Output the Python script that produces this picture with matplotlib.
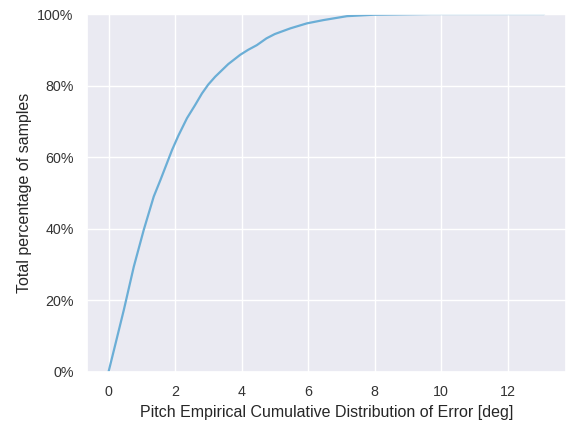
import matplotlib
matplotlib.use("Agg")
import matplotlib.pyplot as plt
import seaborn as sns
from matplotlib.ticker import PercentFormatter

sns.set_theme(style="darkgrid")
plt.rcParams['font.family'] = ['Liberation Sans', 'DejaVu Sans']

# empirical CDF of pitch error
error_deg = [0.0, 0.2, 0.46, 0.76, 1.06, 1.36, 1.56, 1.91, 2.1, 2.36, 2.6, 2.81, 3.0,
             3.21, 3.6, 3.96, 4.2, 4.46, 4.75, 5.0, 5.47, 5.97, 6.46, 7.17, 7.97,
             8.8, 9.7, 11.0, 12.2, 13.1]
cum_frac = [0.0, 0.075, 0.173, 0.294, 0.397, 0.49, 0.536, 0.62, 0.66, 0.709, 0.745,
            0.778, 0.803, 0.825, 0.86, 0.886, 0.9, 0.913, 0.932, 0.944, 0.96, 0.974,
            0.983, 0.994, 0.998, 0.999, 1.0, 1.0, 1.0, 1.0]

fig = plt.figure(figsize=(5.67, 4.25), dpi=100)
ax = fig.add_axes([0.153, 0.125, 0.845, 0.842])

ax.plot(error_deg, cum_frac, color='#6baed6', linewidth=1.6)
ax.set_ylim(0, 1)
ax.yaxis.set_major_formatter(PercentFormatter(1.0, decimals=0))
ax.set_xticks([0, 2, 4, 6, 8, 10, 12])

ax.set_xlabel("Pitch Empirical Cumulative Distribution of Error [deg]", fontsize=11.5, color='#262626')
ax.set_ylabel("Total percentage of samples", fontsize=11.5, color='#262626')
ax.tick_params(labelsize=10.3, colors='#333333')

fig.savefig("out.png", dpi=100)
